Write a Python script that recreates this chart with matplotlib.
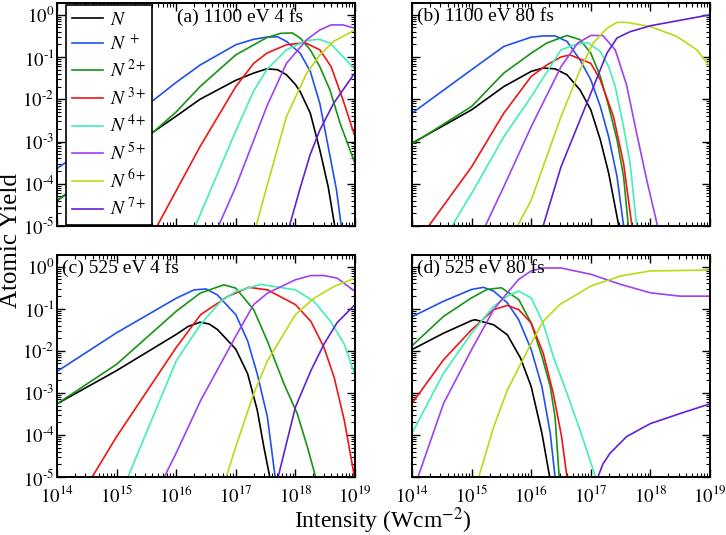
import numpy as np
import matplotlib
matplotlib.use('Agg')
import matplotlib.pyplot as plt
from matplotlib.ticker import LogLocator, FixedLocator, NullFormatter

plt.rcParams['font.family'] = ['Liberation Serif', 'DejaVu Serif']
plt.rcParams['mathtext.fontset'] = 'stix'

# ion charge states and their colours
species = ['N', 'N+', 'N2+', 'N3+', 'N4+', 'N5+', 'N6+', 'N7+']
labels = [r'$N$', r'$N^{\,+}$', r'$N^{\,2+}$', r'$N^{\,3+}$',
          r'$N^{\,4+}$', r'$N^{\,5+}$', r'$N^{\,6+}$', r'$N^{\,7+}$']
colors = ['#000000', '#2050f0', '#169416', '#f01414',
          '#40f0b4', '#a040f0', '#bcd814', '#6020d8']

titles = ['(a) 1100 eV 4 fs', '(b) 1100 eV 80 fs',
          '(c) 525 eV 4 fs', '(d) 525 eV 80 fs']

x_ticklabels = [r'$10^{14}$', r'$10^{15}$', r'$10^{16}$',
                r'$10^{17}$', r'$10^{18}$', r'$10^{19}$']
y_ticklabels = ['$10^{\u20105}$', '$10^{\u20104}$', '$10^{\u20103}$',
                '$10^{\u20102}$', '$10^{\u20101}$', '$10^{0}$']

# log10(intensity / W cm^-2), log10(yield)
panel_a = {
    'N':   ([14.0, 15.0, 15.62, 16.0, 16.4, 16.8, 17.0, 17.3, 17.52, 17.7, 17.85, 18.0, 18.08, 18.25, 18.41, 18.55, 18.66, 18.72],
            [-4.4, -3.4, -2.77, -2.4, -2.0, -1.7, -1.55, -1.38, -1.28, -1.30, -1.42, -1.65, -1.82, -2.33, -3.2, -4.07, -5.0, -5.5]),
    'N+':  ([14.0, 15.0, 15.62, 16.0, 16.4, 17.0, 17.3, 17.52, 17.7, 17.85, 18.08, 18.25, 18.41, 18.55, 18.69, 18.76, 18.8],
            [-3.64, -2.65, -2.02, -1.6, -1.19, -0.71, -0.58, -0.53, -0.52, -0.63, -0.91, -1.34, -2.1, -3.12, -4.15, -4.9, -5.3]),
    'N2+': ([14.0, 15.0, 15.62, 16.0, 16.4, 17.0, 17.52, 17.75, 17.95, 18.08, 18.25, 18.41, 18.58, 18.75, 19.0],
            [-4.39, -3.4, -2.77, -2.3, -1.7, -0.95, -0.54, -0.44, -0.43, -0.55, -0.83, -1.23, -1.78, -2.57, -3.52]),
    'N3+': ([15.56, 15.68, 16.4, 17.0, 17.3, 17.52, 17.85, 18.16, 18.41, 18.6, 18.8, 19.0],
            [-5.3, -5.0, -3.12, -1.7, -1.15, -0.91, -0.71, -0.66, -0.83, -1.23, -2.02, -2.89]),
    'N4+': ([16.2, 16.32, 17.0, 17.3, 17.52, 17.85, 18.19, 18.4, 18.58, 18.8, 19.0],
            [-5.4, -5.0, -2.75, -1.8, -1.3, -0.83, -0.61, -0.58, -0.67, -0.99, -1.3]),
    'N5+': ([16.6, 16.71, 17.0, 17.52, 17.85, 18.19, 18.41, 18.6, 18.8, 19.0],
            [-5.4, -5.0, -4.07, -2.17, -1.15, -0.59, -0.36, -0.24, -0.24, -0.32]),
    'N6+': ([17.25, 17.34, 17.52, 17.85, 18.19, 18.41, 18.64, 19.0],
            [-5.4, -5.0, -4.07, -2.41, -1.38, -0.95, -0.63, -0.36]),
    'N7+': ([17.82, 17.9, 18.08, 18.25, 18.41, 18.64, 19.0],
            [-5.4, -5.0, -4.1, -3.3, -2.73, -2.1, -1.37]),
}

panel_b = {
    'N':   ([14.0, 15.0, 15.54, 16.0, 16.2, 16.4, 16.6, 16.82, 17.0, 17.16, 17.3, 17.47, 17.52],
            [-3.04, -2.25, -1.7, -1.34, -1.26, -1.28, -1.42, -1.78, -2.25, -2.96, -3.75, -5.0, -5.4]),
    'N+':  ([14.0, 15.0, 15.54, 16.0, 16.2, 16.4, 16.6, 16.82, 17.0, 17.16, 17.3, 17.44, 17.55, 17.6],
            [-2.33, -1.30, -0.75, -0.53, -0.5, -0.5, -0.63, -1.07, -1.54, -2.17, -2.89, -3.83, -5.0, -5.4]),
    'N2+': ([14.0, 15.0, 15.54, 16.0, 16.26, 16.6, 16.82, 17.0, 17.16, 17.3, 17.44, 17.55, 17.63, 17.68],
            [-3.06, -2.17, -1.38, -0.91, -0.67, -0.49, -0.59, -0.91, -1.46, -2.17, -2.96, -3.83, -5.0, -5.4]),
    'N3+': ([14.2, 14.28, 15.0, 15.54, 16.0, 16.26, 16.5, 16.65, 17.0, 17.16, 17.38, 17.55, 17.69, 17.75],
            [-5.4, -5.0, -3.6, -2.33, -1.46, -1.19, -1.0, -0.95, -1.15, -1.54, -2.41, -3.52, -5.0, -5.4]),
    'N4+': ([14.58, 14.67, 15.0, 15.54, 16.0, 16.5, 16.75, 16.95, 17.16, 17.3, 17.41, 17.55, 17.66, 17.77, 17.82],
            [-5.4, -5.0, -4.23, -2.89, -1.94, -0.83, -0.7, -0.66, -0.87, -1.23, -1.7, -2.65, -3.52, -5.0, -5.4]),
    'N5+': ([15.13, 15.23, 15.54, 16.0, 16.5, 16.78, 17.0, 17.2, 17.41, 17.6, 17.77, 17.94, 18.12, 18.18],
            [-5.4, -5.0, -4.07, -2.65, -1.23, -0.67, -0.49, -0.49, -0.83, -1.66, -2.81, -3.92, -5.0, -5.4]),
    'N6+': ([15.68, 15.77, 16.0, 16.5, 16.82, 17.04, 17.27, 17.44, 17.6, 18.0, 18.44, 18.78, 19.0],
            [-5.4, -5.0, -4.39, -2.41, -1.30, -0.67, -0.32, -0.18, -0.18, -0.28, -0.51, -0.83, -1.23]),
    'N7+': ([16.12, 16.2, 16.5, 17.0, 17.27, 17.44, 17.66, 18.0, 18.5, 19.0],
            [-5.4, -5.0, -3.6, -1.86, -0.91, -0.55, -0.4, -0.26, -0.13, 0.0]),
}

panel_c = {
    'N':   ([14.0, 15.0, 16.0, 16.2, 16.4, 16.55, 16.69, 17.0, 17.2, 17.36, 17.47, 17.57, 17.62],
            [-3.26, -2.47, -1.61, -1.42, -1.32, -1.36, -1.49, -1.96, -2.55, -3.41, -4.28, -5.0, -5.4]),
    'N+':  ([14.0, 15.0, 16.0, 16.3, 16.5, 16.69, 17.0, 17.2, 17.36, 17.53, 17.66, 17.7],
            [-2.49, -1.57, -0.75, -0.55, -0.53, -0.67, -1.14, -1.77, -2.55, -3.57, -5.0, -5.4]),
    'N2+': ([14.0, 15.0, 16.0, 16.4, 16.8, 17.0, 17.3, 17.53, 17.81, 18.03, 18.2, 18.34, 18.4],
            [-3.26, -2.32, -1.06, -0.63, -0.43, -0.51, -1.02, -1.77, -2.79, -3.49, -4.28, -5.0, -5.4]),
    'N3+': ([14.5, 14.59, 15.0, 16.0, 16.41, 16.86, 17.22, 17.53, 18.0, 18.26, 18.48, 18.65, 18.82, 18.96, 19.0],
            [-5.4, -5.0, -4.04, -1.92, -1.14, -0.71, -0.49, -0.55, -0.9, -1.3, -1.92, -2.63, -3.65, -4.75, -5.1]),
    'N4+': ([15.1, 15.19, 16.0, 16.41, 16.75, 17.0, 17.42, 18.0, 18.31, 18.59, 18.82, 19.0],
            [-5.4, -5.0, -2.24, -1.37, -0.82, -0.59, -0.42, -0.55, -0.82, -1.3, -1.84, -2.59]),
    'N5+': ([15.7, 15.8, 16.0, 16.41, 17.0, 17.3, 17.53, 18.0, 18.26, 18.48, 18.7, 19.0],
            [-5.4, -5.0, -4.43, -3.18, -1.65, -0.9, -0.63, -0.31, -0.21, -0.21, -0.27, -0.59]),
    'N6+': ([16.75, 16.84, 17.0, 17.3, 17.53, 18.0, 18.31, 18.65, 19.0],
            [-5.4, -5.0, -4.28, -3.02, -2.24, -1.14, -0.75, -0.47, -0.27]),
    'N7+': ([17.65, 17.71, 18.0, 18.26, 18.48, 18.7, 19.0],
            [-5.4, -5.0, -3.34, -2.47, -1.84, -1.33, -0.9]),
}

panel_d = {
    'N':   ([14.0, 14.53, 15.0, 15.06, 15.37, 15.6, 15.82, 16.0, 16.18, 16.31, 16.36],
            [-1.97, -1.58, -1.28, -1.26, -1.38, -1.62, -2.17, -2.85, -3.96, -5.0, -5.4]),
    'N+':  ([14.0, 14.53, 15.0, 15.2, 15.37, 15.6, 15.79, 16.0, 16.18, 16.32, 16.4, 16.45],
            [-1.19, -0.82, -0.54, -0.49, -0.58, -0.86, -1.26, -1.97, -2.85, -3.96, -5.0, -5.4]),
    'N2+': ([14.0, 14.53, 15.0, 15.26, 15.5, 15.79, 16.0, 16.18, 16.32, 16.4, 16.47, 16.52],
            [-1.88, -1.18, -0.74, -0.54, -0.5, -0.78, -1.34, -2.13, -2.85, -3.57, -5.0, -5.4]),
    'N3+': ([14.0, 14.53, 15.0, 15.37, 15.6, 15.79, 16.0, 16.2, 16.37, 16.51, 16.6, 16.65],
            [-3.25, -2.21, -1.5, -1.02, -0.92, -1.02, -1.34, -2.05, -3.01, -4.04, -5.0, -5.4]),
    'N4+': ([14.0, 14.53, 15.0, 15.37, 15.6, 15.79, 16.0, 16.2, 16.37, 16.6, 16.82, 17.08, 17.15],
            [-3.96, -2.53, -1.58, -0.94, -0.7, -0.58, -0.74, -1.34, -2.13, -3.01, -3.89, -5.0, -5.4]),
    'N5+': ([14.0, 14.1, 14.53, 15.0, 15.37, 15.6, 15.79, 16.0, 16.2, 16.5, 17.0, 17.5, 18.0, 18.5, 19.0],
            [-5.4, -5.0, -3.25, -1.97, -1.02, -0.62, -0.3, -0.1, -0.03, -0.03, -0.18, -0.42, -0.62, -0.7, -0.7]),
    'N6+': ([15.05, 15.12, 15.37, 15.6, 16.0, 16.2, 16.48, 17.0, 17.5, 18.0, 19.0],
            [-5.4, -5.0, -3.81, -2.93, -1.82, -1.3, -0.9, -0.46, -0.22, -0.1, -0.08]),
    'N7+': ([17.1, 17.12, 17.2, 17.32, 17.6, 18.0, 18.5, 19.0],
            [-5.4, -5.0, -4.7, -4.44, -4.04, -3.73, -3.49, -3.26]),
}

panels = [panel_a, panel_b, panel_c, panel_d]

fig = plt.figure(figsize=(7.26, 5.35), dpi=100)
W, H = 726.0, 535.0
# axes boxes in pixels: left, top, right, bottom
boxes = [(57, 3, 355, 226), (412, 3, 710, 226),
         (57, 255, 355, 477), (412, 255, 710, 477)]

axes = []
for i, (data, title, box) in enumerate(zip(panels, titles, boxes)):
    l, t, r, b = box
    ax = fig.add_axes([l / W, 1 - b / H, (r - l) / W, (b - t) / H])
    axes.append(ax)
    for sp, lab, col in zip(species, labels, colors):
        lx, ly = data[sp]
        ax.plot(10 ** np.array(lx), 10 ** np.array(ly), color=col, lw=1.2, label=lab)
    ax.set_xscale('log')
    ax.set_yscale('log')
    ax.set_xlim(1e14, 1e19)
    ax.set_ylim(1e-5, 1.9)
    ax.xaxis.set_major_locator(FixedLocator([1e14, 1e15, 1e16, 1e17, 1e18, 1e19]))
    ax.yaxis.set_major_locator(FixedLocator([1e-5, 1e-4, 1e-3, 1e-2, 1e-1, 1e0]))
    ax.xaxis.set_minor_locator(LogLocator(base=10, subs=np.arange(2, 10), numticks=20))
    ax.yaxis.set_minor_locator(LogLocator(base=10, subs=np.arange(2, 10), numticks=20))
    ax.xaxis.set_minor_formatter(NullFormatter())
    ax.yaxis.set_minor_formatter(NullFormatter())
    ax.tick_params(which='both', direction='in', top=True, right=True, labelsize=13.5)
    ax.tick_params(which='major', length=6, width=1)
    ax.tick_params(which='minor', length=3, width=0.8)
    for s in ax.spines.values():
        s.set_linewidth(1.4)
    if i in (0, 2):
        ax.set_yticklabels(y_ticklabels)
        ax.tick_params(axis='y', pad=2)
    else:
        ax.set_yticklabels([])
    if i in (2, 3):
        ax.set_xticklabels(x_ticklabels)
        ax.tick_params(axis='x', pad=6)
    else:
        ax.set_xticklabels([])
    if i == 0:
        ax.text(0.614, 0.935, title, transform=ax.transAxes, fontsize=14,
                ha='center', va='center')
    else:
        ax.text(0.018, 0.94, title, transform=ax.transAxes, fontsize=14,
                ha='left', va='center')

leg = axes[0].legend(loc='upper left', bbox_to_anchor=(0.03, 0.99), fontsize=14,
                     handlelength=1.6, handletextpad=0.35, labelspacing=0.28,
                     borderaxespad=0, borderpad=0.3, fancybox=False, framealpha=1)
leg.get_frame().set_edgecolor('black')
leg.get_frame().set_linewidth(1.2)

fig.text(0.015, 0.551, 'Atomic Yield', rotation=90, fontsize=18,
         ha='center', va='center')
fig.text(0.527, 0.027, r'Intensity (Wcm$^{-2}$)', fontsize=17,
         ha='center', va='center')

fig.savefig('out.png', dpi=100)
